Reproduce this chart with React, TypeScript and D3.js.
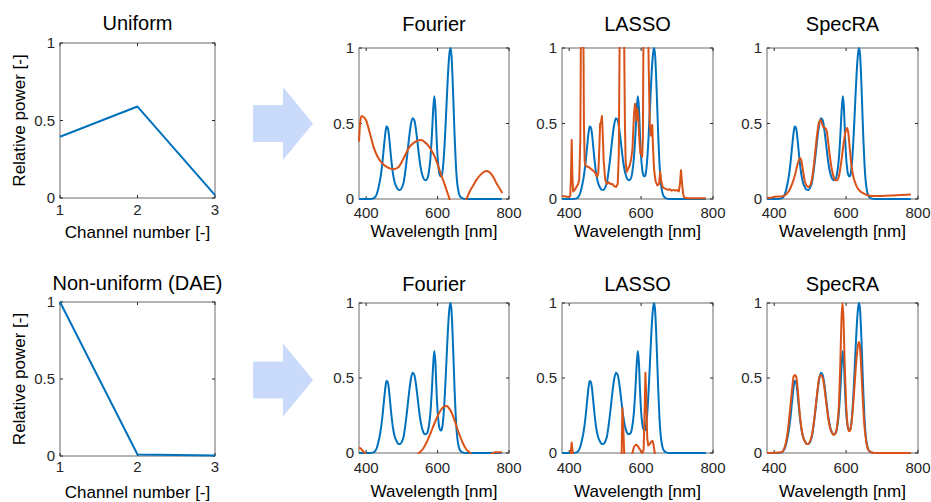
import React from "react";
import * as d3 from "d3";

type P = [number, number];

// ---- data ----
const channelTicks = [1, 2, 3];
const powerTicks = [0, 0.5, 1];
const wavelengthTicks = [400, 600, 800];

const uniformPower: P[] = [[1, 0.395], [2, 0.59], [3, 0.018]];
const daePower: P[] = [[1, 1.0], [2, 0.01], [3, 0.004]];

const target: P[] = [
  [380, 0], [400, 0], [410, 0], [420, 0.004], [425, 0.012], [430, 0.035], [435, 0.08], [440, 0.14],
  [445, 0.23], [450, 0.35], [454, 0.44], [457, 0.48], [460, 0.475], [463, 0.44], [466, 0.37],
  [470, 0.27], [475, 0.17], [480, 0.11], [485, 0.08], [490, 0.062], [495, 0.06], [500, 0.075],
  [505, 0.11], [510, 0.19], [515, 0.29], [520, 0.4], [525, 0.49], [530, 0.535], [535, 0.52],
  [540, 0.45], [545, 0.35], [550, 0.25], [555, 0.18], [560, 0.14], [565, 0.125], [570, 0.13],
  [575, 0.17], [580, 0.27], [584, 0.42], [588, 0.6], [591, 0.68], [594, 0.6], [597, 0.42],
  [600, 0.28], [603, 0.2], [607, 0.155], [610, 0.15], [613, 0.17], [617, 0.26], [621, 0.42],
  [625, 0.62], [629, 0.82], [633, 0.96], [636, 1.0], [639, 0.95], [642, 0.8], [645, 0.6],
  [648, 0.4], [651, 0.24], [654, 0.13], [657, 0.07], [660, 0.035], [665, 0.012], [670, 0.004],
  [680, 0], [700, 0], [740, 0], [780, 0],
];

const fourierUniform: P[] = [
  [380, 0.38], [383, 0.5], [387, 0.55], [392, 0.545], [400, 0.52], [410, 0.44], [420, 0.35],
  [430, 0.29], [440, 0.25], [450, 0.225], [460, 0.21], [470, 0.2], [478, 0.198], [490, 0.21],
  [505, 0.27], [520, 0.34], [535, 0.375], [553, 0.39], [565, 0.375], [575, 0.35], [590, 0.29],
  [600, 0.23], [610, 0.16], [620, 0.095], [630, 0.025], [640, -0.04], [655, -0.07], [670, -0.04],
  [681, 0.0], [690, 0.05], [700, 0.09], [710, 0.13], [720, 0.16], [730, 0.18], [737, 0.185],
  [745, 0.178], [755, 0.15], [766, 0.1], [775, 0.065], [781, 0.04],
];

const lassoUniform: P[] = [
  [380, 0.02], [395, 0.015], [400, 0.015], [403, 0.02], [405, 0.15], [407, 0.39], [409, 0.15],
  [411, 0.05], [415, 0.06], [420, 0.08], [425, 0.1], [428, 0.13], [431, 0.4], [433, 1.3],
  [439, 1.3], [441, 0.5], [443, 0.25], [446, 0.22], [450, 0.215], [455, 0.21], [460, 0.2],
  [465, 0.19], [470, 0.18], [475, 0.16], [478, 0.15], [481, 0.17], [484, 0.35], [486, 0.5],
  [488, 0.5], [491, 0.55], [493, 0.45], [496, 0.25], [500, 0.13], [505, 0.1], [510, 0.11],
  [515, 0.1], [520, 0.1], [525, 0.085], [530, 0.08], [535, 0.1], [538, 0.3], [541, 1.3],
  [552, 1.3], [555, 0.5], [557, 0.25], [560, 0.18], [564, 0.2], [568, 0.22], [572, 0.26],
  [576, 0.33], [580, 0.55], [583, 0.63], [585, 0.6], [587, 0.52], [589, 0.6], [592, 0.55],
  [595, 0.4], [598, 0.3], [600, 0.32], [603, 0.28], [605, 0.4], [607, 1.3], [619, 1.3],
  [621, 0.9], [624, 0.5], [627, 0.42], [629, 0.48], [631, 0.49], [633, 0.35], [636, 0.2],
  [640, 0.12], [645, 0.09], [650, 0.1], [653, 0.18], [656, 0.12], [660, 0.08], [665, 0.07],
  [670, 0.065], [675, 0.06], [680, 0.065], [685, 0.055], [690, 0.06], [695, 0.055], [700, 0.06],
  [705, 0.05], [708, 0.1], [711, 0.19], [714, 0.1], [717, 0.03], [720, 0.01], [730, 0.005],
  [780, 0.005],
];

const specraUniform: P[] = [
  [380, 0.008], [395, 0.01], [400, 0.015], [420, 0.017], [430, 0.025], [440, 0.05], [450, 0.1],
  [458, 0.16], [465, 0.23], [470, 0.265], [473, 0.27], [476, 0.25], [480, 0.19], [485, 0.12],
  [490, 0.09], [495, 0.08], [500, 0.09], [505, 0.13], [510, 0.22], [515, 0.33], [520, 0.44],
  [525, 0.51], [529, 0.525], [533, 0.5], [537, 0.475], [542, 0.47], [546, 0.45], [550, 0.38],
  [555, 0.28], [560, 0.2], [565, 0.15], [570, 0.125], [575, 0.125], [580, 0.15], [585, 0.22],
  [590, 0.31], [595, 0.4], [600, 0.46], [603, 0.47], [606, 0.44], [610, 0.34], [615, 0.22],
  [620, 0.15], [625, 0.11], [630, 0.08], [640, 0.05], [650, 0.035], [660, 0.025], [670, 0.02],
  [700, 0.02], [740, 0.025], [780, 0.03],
];

const fourierDAE: P[] = [
  [380, 0.035], [385, 0.03], [390, 0.015], [395, 0.003], [400, -0.01], [420, -0.03], [500, -0.04],
  [540, -0.02], [548, 0], [560, 0.03], [570, 0.075], [580, 0.13], [590, 0.19], [600, 0.245],
  [610, 0.29], [620, 0.312], [625, 0.314], [630, 0.305], [640, 0.265], [650, 0.2], [660, 0.13],
  [670, 0.07], [680, 0.025], [690, 0.003], [700, -0.02], [730, -0.02], [755, -0.003],
  [760, 0.005], [780, 0.005],
];

const lassoDAE: P[] = [
  [380, -0.03], [402, -0.03], [404, 0], [407, 0.07], [410, 0], [412, -0.03], [544, -0.03],
  [546, 0], [548, 0.3], [550, 0.2], [553, 0], [555, -0.03], [573, -0.03], [576, 0], [580, 0.04],
  [585, 0.055], [590, 0.05], [595, 0.03], [600, 0.01], [604, 0.0], [607, 0.02], [610, 0.3],
  [612, 0.535], [614, 0.4], [617, 0.1], [620, 0.05], [624, 0.06], [628, 0.075], [632, 0.08],
  [635, 0.05], [638, 0], [640, -0.03], [780, -0.03],
];

const specraDAE: P[] = [
  [380, 0], [420, 0.005], [425, 0.015], [430, 0.045], [435, 0.1], [440, 0.19], [445, 0.31],
  [450, 0.43], [454, 0.51], [458, 0.52], [462, 0.5], [466, 0.41], [470, 0.29], [475, 0.18],
  [480, 0.11], [485, 0.08], [490, 0.06], [495, 0.06], [500, 0.08], [505, 0.12], [510, 0.2],
  [515, 0.3], [520, 0.41], [525, 0.5], [530, 0.52], [535, 0.5], [540, 0.43], [545, 0.33],
  [550, 0.24], [555, 0.17], [560, 0.14], [565, 0.12], [570, 0.13], [575, 0.18], [580, 0.32],
  [584, 0.6], [587, 0.88], [590, 1.0], [593, 0.88], [596, 0.6], [600, 0.33], [604, 0.19],
  [608, 0.145], [611, 0.15], [615, 0.2], [619, 0.3], [623, 0.43], [627, 0.57], [631, 0.68],
  [635, 0.74], [638, 0.72], [641, 0.62], [644, 0.47], [647, 0.33], [650, 0.21], [654, 0.11],
  [658, 0.05], [662, 0.02], [670, 0.005], [680, 0], [780, 0],
];

// ---- styling ----
const BLUE = "#0072BD";
const ORANGE = "#D95319";
const AXIS = "#262626";
const FONT = "'Liberation Sans', Arial, Helvetica, sans-serif";

type PanelProps = {
  id: string;
  x0: number; x1: number; y0: number; y1: number;
  xDomain: [number, number];
  xTicks: number[];
  title: string;
  titleY: number;
  xLabel: string;
  xLabelY: number;
  tickY: number;
  yLabel?: string;
  series: { data: P[]; color: string; curve: d3.CurveFactory }[];
};

function Panel(p: PanelProps) {
  const x = d3.scaleLinear().domain(p.xDomain).range([p.x0, p.x1]);
  const y = d3.scaleLinear().domain([0, 1]).range([p.y1, p.y0]);
  const tl = 3;
  const cx = (p.x0 + p.x1) / 2;
  return (
    <g>
      <defs>
        <clipPath id={p.id}>
          <rect x={p.x0 - 1} y={p.y0 - 1} width={p.x1 - p.x0 + 2} height={p.y1 - p.y0 + 2} />
        </clipPath>
      </defs>
      <rect x={p.x0} y={p.y0} width={p.x1 - p.x0} height={p.y1 - p.y0} fill="#fff" stroke="#6b6b6b" strokeWidth={1} />
      {p.xTicks.map((t) => (
        <g key={"xt" + t}>
          <line x1={x(t)} x2={x(t)} y1={p.y1} y2={p.y1 - tl} stroke={AXIS} strokeWidth={1} />
          <line x1={x(t)} x2={x(t)} y1={p.y0} y2={p.y0 + tl} stroke={AXIS} strokeWidth={1} />
          <text x={x(t)} y={p.tickY} textAnchor="middle" fontSize={15} fill={AXIS} fontFamily={FONT}>{t}</text>
        </g>
      ))}
      {powerTicks.map((t) => (
        <g key={"yt" + t}>
          <line x1={p.x0} x2={p.x0 + tl} y1={y(t)} y2={y(t)} stroke={AXIS} strokeWidth={1} />
          <line x1={p.x1} x2={p.x1 - tl} y1={y(t)} y2={y(t)} stroke={AXIS} strokeWidth={1} />
          <text x={p.x0 - 5} y={y(t)} dy="0.36em" textAnchor="end" fontSize={15} fill={AXIS} fontFamily={FONT}>{t}</text>
        </g>
      ))}
      <g clipPath={`url(#${p.id})`}>
        {p.series.map((s, i) => {
          const line = d3.line<P>().x((d) => x(d[0])).y((d) => y(d[1])).curve(s.curve);
          return <path key={i} d={line(s.data) || ""} fill="none" stroke={s.color} strokeWidth={2} strokeLinejoin="round" />;
        })}
      </g>
      <text x={cx} y={p.titleY} textAnchor="middle" fontSize={20} fill="#000" fontFamily={FONT}>{p.title}</text>
      <text x={cx} y={p.xLabelY} textAnchor="middle" fontSize={17} fill="#000" fontFamily={FONT}>{p.xLabel}</text>
      {p.yLabel && (
        <text transform={`translate(25,${(p.y0 + p.y1) / 2}) rotate(-90)`} textAnchor="middle" fontSize={17} fill="#000" fontFamily={FONT}>{p.yLabel}</text>
      )}
    </g>
  );
}

function Arrow({ cy }: { cy: number }) {
  const pts: P[] = [
    [253, cy - 18.5], [283, cy - 18.5], [283, cy - 36.5], [313, cy], [283, cy + 36.5], [283, cy + 18.5], [253, cy + 18.5],
  ];
  return <polygon points={pts.map((q) => q.join(",")).join(" ")} fill="#C9DAFA" />;
}

export default function App() {
  const rows = [
    { y0: 48, y1: 199, ly0: 43, ly1: 198, titleY: 31, xLabelY: 237, tickY: 218, ltickY: 215,
      lTitle: "Uniform", chan: uniformPower, four: fourierUniform, lasso: lassoUniform, spec: specraUniform, cy: 123.5 },
    { y0: 303, y1: 453, ly0: 302, ly1: 456, titleY: 291, xLabelY: 497, tickY: 473, ltickY: 472,
      lTitle: "Non-uniform (DAE)", chan: daePower, four: fourierDAE, lasso: lassoDAE, spec: specraDAE, cy: 380 },
  ];
  const wl: [number, number] = [380, 800];
  return (
    <svg width={931} height={502} style={{ position: "absolute", left: 0, top: 0, background: "#fff" }}>
      <rect width={931} height={502} fill="#fff" />
      {rows.map((r, i) => (
        <g key={i}>
          <Panel id={`c${i}a`} x0={60} x1={215} y0={r.ly0} y1={r.ly1} xDomain={[1, 3]} xTicks={channelTicks}
            title={r.lTitle} titleY={r.titleY - 1} xLabel="Channel number [-]" xLabelY={r.xLabelY + 1} tickY={r.ltickY}
            yLabel="Relative power [-]" series={[{ data: r.chan, color: BLUE, curve: d3.curveLinear }]} />
          <Arrow cy={r.cy} />
          <Panel id={`c${i}b`} x0={359} x1={509} y0={r.y0} y1={r.y1} xDomain={wl} xTicks={wavelengthTicks}
            title="Fourier" titleY={r.titleY} xLabel="Wavelength [nm]" xLabelY={r.xLabelY} tickY={r.tickY}
            series={[{ data: target, color: BLUE, curve: d3.curveMonotoneX }, { data: r.four, color: ORANGE, curve: d3.curveMonotoneX }]} />
          <Panel id={`c${i}c`} x0={562} x1={713} y0={r.y0} y1={r.y1} xDomain={wl} xTicks={wavelengthTicks}
            title="LASSO" titleY={r.titleY} xLabel="Wavelength [nm]" xLabelY={r.xLabelY} tickY={r.tickY}
            series={[{ data: target, color: BLUE, curve: d3.curveMonotoneX }, { data: r.lasso, color: ORANGE, curve: d3.curveLinear }]} />
          <Panel id={`c${i}d`} x0={767} x1={918} y0={r.y0} y1={r.y1} xDomain={wl} xTicks={wavelengthTicks}
            title="SpecRA" titleY={r.titleY} xLabel="Wavelength [nm]" xLabelY={r.xLabelY} tickY={r.tickY}
            series={[{ data: target, color: BLUE, curve: d3.curveMonotoneX }, { data: r.spec, color: ORANGE, curve: d3.curveMonotoneX }]} />
        </g>
      ))}
    </svg>
  );
}
